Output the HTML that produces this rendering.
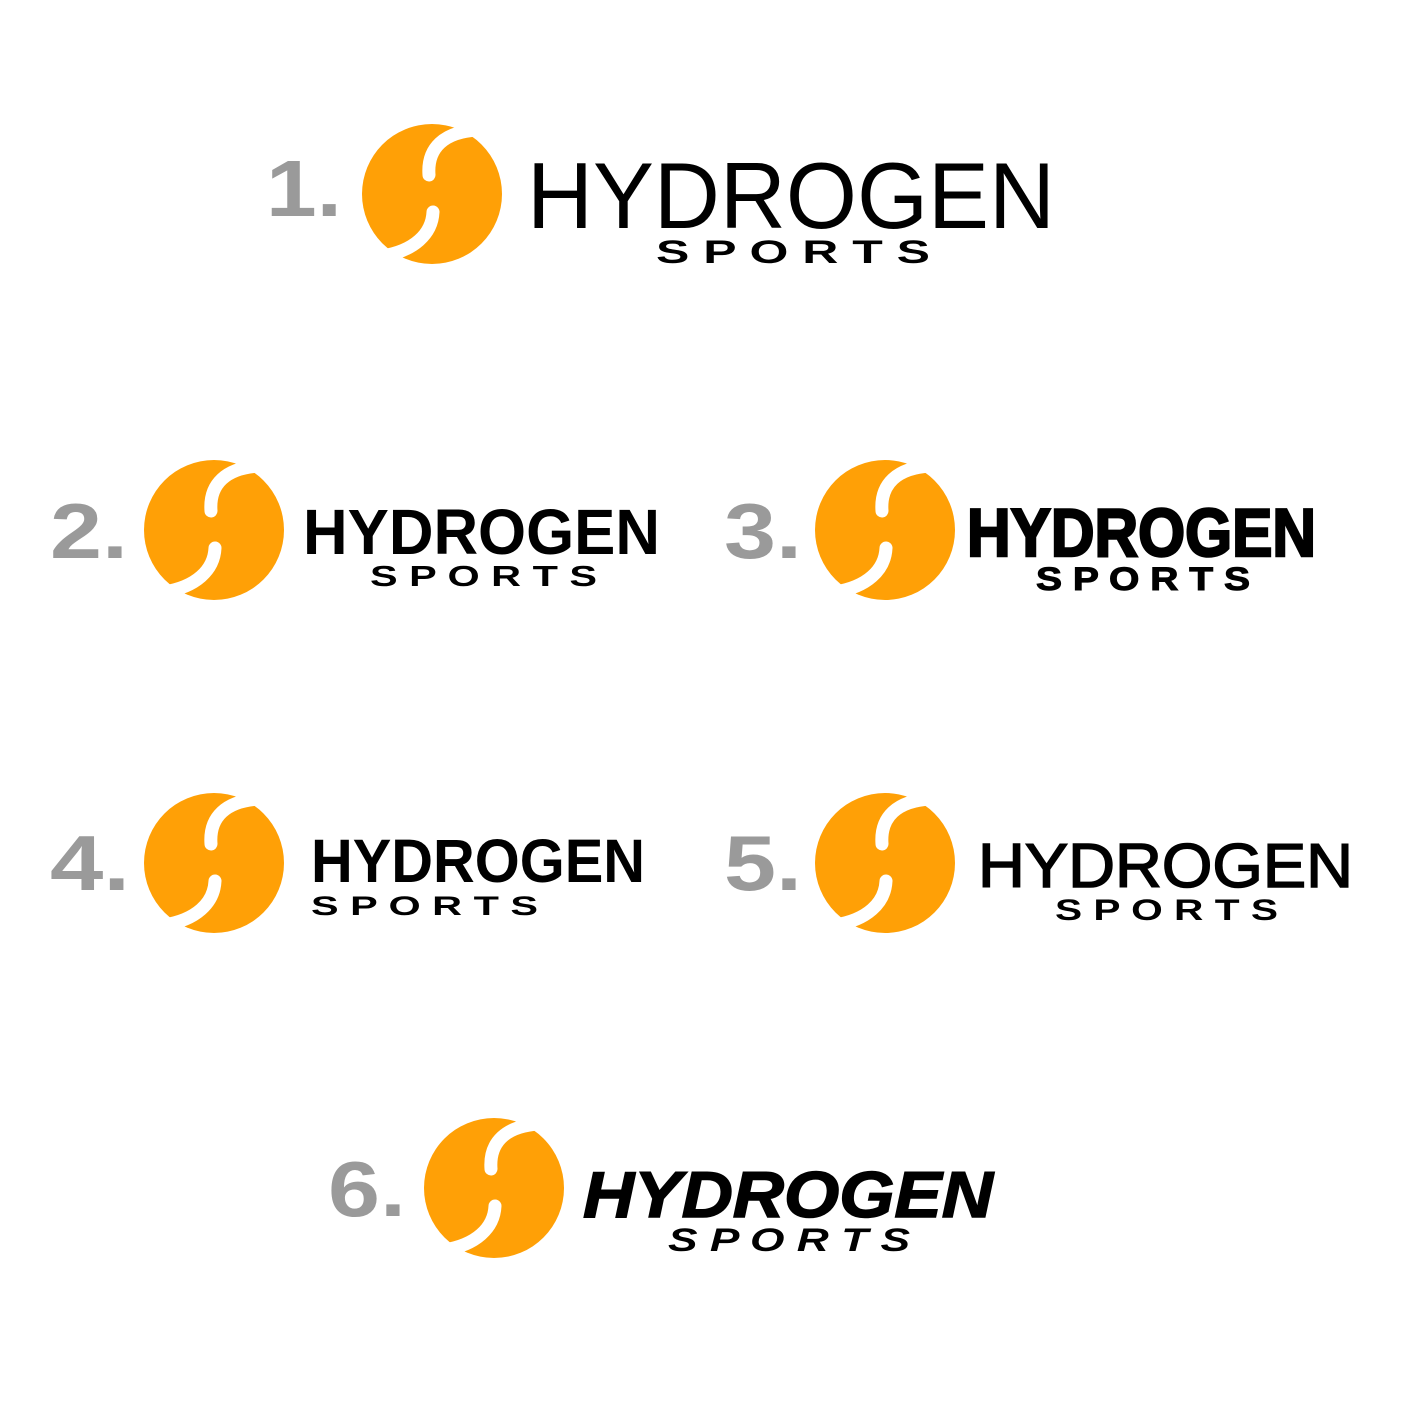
<!DOCTYPE html>
<html><head><style>html,body{margin:0;padding:0;background:#fff}svg{display:block}</style></head>
<body>
<svg width="1417" height="1403" viewBox="0 0 1417 1403" xmlns="http://www.w3.org/2000/svg" font-family="Liberation Sans, sans-serif">
<defs>
<g id="logo">
<circle cx="0" cy="0" r="70" fill="#ffa006"/>
<path d="M45 -64 C 12 -62, -5 -46, -3 -19" fill="none" stroke="#fff" stroke-width="13" stroke-linecap="round"/>
<path d="M45 -64 L 90 -64" fill="none" stroke="#fff" stroke-width="13"/>
<path d="M1 18 C 0 40, -18 57, -50 62" fill="none" stroke="#fff" stroke-width="13" stroke-linecap="round"/>
<path d="M-50 62 L -90 62" fill="none" stroke="#fff" stroke-width="13"/>
</g>
</defs>
<g fill="#9a9a9a" font-weight="bold">
<text x="266" y="216" font-size="80" textLength="76" lengthAdjust="spacingAndGlyphs">1.</text>
<text x="50" y="558" font-size="78" textLength="78" lengthAdjust="spacingAndGlyphs">2.</text>
<text x="724" y="558" font-size="78" textLength="78" lengthAdjust="spacingAndGlyphs">3.</text>
<text x="50" y="890" font-size="78" textLength="80" lengthAdjust="spacingAndGlyphs">4.</text>
<text x="724" y="890" font-size="78" textLength="78" lengthAdjust="spacingAndGlyphs">5.</text>
<text x="328" y="1216" font-size="78" textLength="78" lengthAdjust="spacingAndGlyphs">6.</text>
</g>
<use href="#logo" x="432" y="194"/>
<use href="#logo" x="214" y="530"/>
<use href="#logo" x="885" y="530"/>
<use href="#logo" x="214" y="863"/>
<use href="#logo" x="885" y="863"/>
<use href="#logo" x="494" y="1188"/>
<g fill="#000">
<text x="527" y="228" font-size="94" textLength="528" lengthAdjust="spacingAndGlyphs">HYDROGEN</text>
<text x="656" y="263" font-size="32" font-weight="bold" textLength="274" lengthAdjust="spacingAndGlyphs">S P O R T S</text>

<text x="303" y="554" font-size="64" font-weight="bold" textLength="357" lengthAdjust="spacingAndGlyphs">HYDROGEN</text>
<text x="370" y="586" font-size="29" font-weight="bold" textLength="227" lengthAdjust="spacingAndGlyphs">S P O R T S</text>

<text x="967" y="556" font-size="68" font-weight="bold" stroke="#000" stroke-width="2.5" textLength="349" lengthAdjust="spacingAndGlyphs">HYDROGEN</text>
<text x="1036" y="590" font-size="32" font-weight="bold" stroke="#000" stroke-width="1" textLength="214" lengthAdjust="spacingAndGlyphs">S P O R T S</text>

<text x="311" y="882" font-size="61" font-weight="bold" textLength="334" lengthAdjust="spacingAndGlyphs">HYDROGEN</text>
<text x="311" y="915" font-size="27" font-weight="bold" textLength="227" lengthAdjust="spacingAndGlyphs">S P O R T S</text>

<text x="978" y="887" font-size="62" stroke="#000" stroke-width="1.5" textLength="375" lengthAdjust="spacingAndGlyphs">HYDROGEN</text>
<text x="1055" y="920" font-size="30" font-weight="bold" textLength="223" lengthAdjust="spacingAndGlyphs">S P O R T S</text>

<text x="583" y="1217" font-size="65" font-weight="bold" font-style="italic" stroke="#000" stroke-width="1.5" textLength="410" lengthAdjust="spacingAndGlyphs">HYDROGEN</text>
<text x="668" y="1251" font-size="32" font-weight="bold" font-style="italic" textLength="242" lengthAdjust="spacingAndGlyphs">S P O R T S</text>
</g>
</svg>
</body></html>
